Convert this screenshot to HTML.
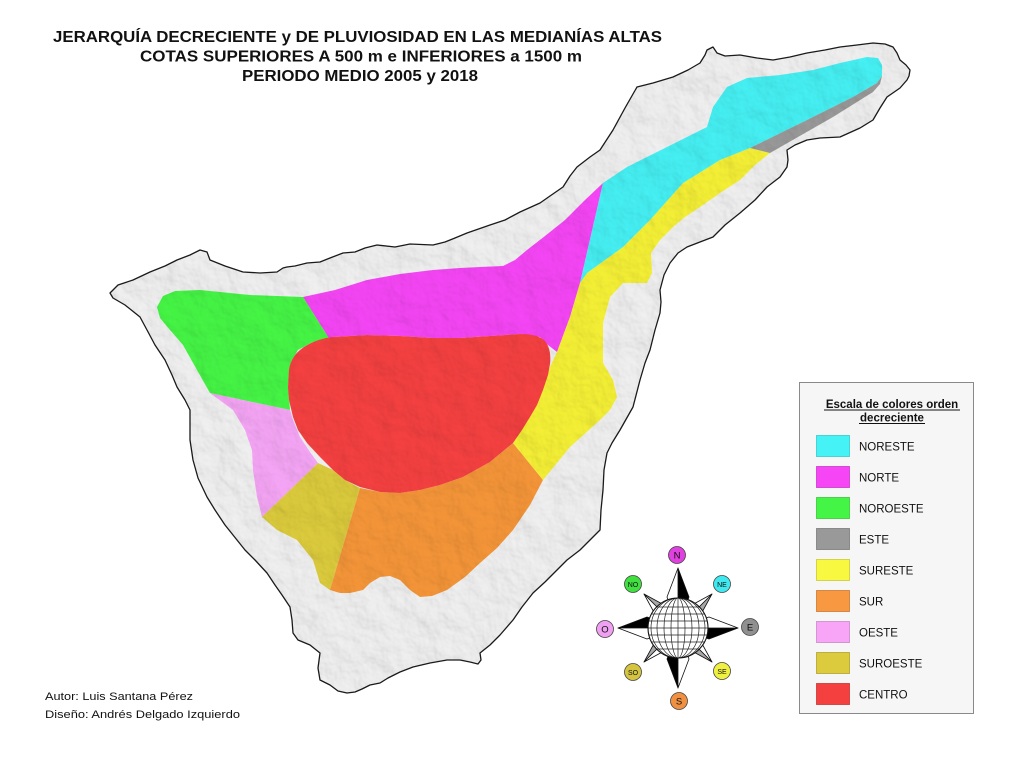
<!DOCTYPE html>
<html><head><meta charset="utf-8">
<style>
html,body{margin:0;padding:0;background:#fff;}
svg{display:block;}
text{font-family:"Liberation Sans",Arial,sans-serif;}
</style></head>
<body>
<svg width="1024" height="757" viewBox="0 0 1024 757" xmlns="http://www.w3.org/2000/svg">
<defs>
<clipPath id="isl"><path id="islp" d="M110,293 L118,285 133,280 150,272 165,266 177,260 190,255 200,250 207,252 210,260 225,266 243,272 260,273 277,272 283,268 287,267 295,266 307,263 320,262 330,258 343,253 355,252 365,248 377,245 395,247 410,244 433,245 445,242 455,238 467,233 490,225 505,220 520,212 540,203 550,196 563,187 570,176 577,167 590,157 600,150 613,130 625,108 637,87 653,83 673,77 688,70 700,63 705,55 707,50 713,47 717,53 725,56 740,55 757,58 773,60 790,57 807,53 825,50 840,47 857,45 873,43 885,44 893,47 897,53 900,60 906,65 910,70 909,76 907,80 900,88 887,97 880,108 873,120 860,128 840,137 820,138 807,140 795,145 787,150 788,160 787,167 780,177 767,187 755,200 740,213 725,225 713,237 700,242 687,247 678,253 670,263 664,275 660,290 661,302 660,313 655,330 650,350 645,363 640,380 633,407 620,430 612,443 607,453 604,470 603,490 601,510 600,530 590,540 580,550 567,560 555,572 545,582 533,593 522,607 513,620 500,635 490,645 480,653 481,660 478,664 470,662 460,660 447,660 430,663 413,667 400,672 388,678 380,683 370,685 362,689 355,692 347,693 338,691 330,685 320,680 318,668 320,653 310,645 298,640 293,633 292,620 290,607 282,595 275,585 267,573 255,560 245,550 237,540 225,525 215,510 207,497 198,478 193,460 190,440 190,427 190,410 185,400 177,387 172,375 165,360 155,345 147,330 140,317 125,305 113,298 Z"/></clipPath>
<filter id="hs" x="0" y="0" width="100%" height="100%">
<feTurbulence type="fractalNoise" baseFrequency="0.035" numOctaves="4" seed="7" result="n"/>
<feDiffuseLighting in="n" surfaceScale="4" diffuseConstant="1" lighting-color="#ffffff"><feDistantLight azimuth="315" elevation="55"/></feDiffuseLighting>
</filter>
</defs>

<rect width="1024" height="757" fill="#ffffff"/>

<!-- Title -->
<g font-weight="bold" font-size="15.5" fill="#111">
<text x="53" y="42" textLength="609" lengthAdjust="spacingAndGlyphs">JERARQUÍA DECRECIENTE y DE PLUVIOSIDAD EN LAS MEDIANÍAS ALTAS</text>
<text x="140" y="61.5" textLength="442" lengthAdjust="spacingAndGlyphs">COTAS SUPERIORES A 500 m e INFERIORES a 1500 m</text>
<text x="242" y="81" textLength="236" lengthAdjust="spacingAndGlyphs">PERIODO MEDIO 2005 y 2018</text>
</g>

<!-- Island -->
<use href="#islp" fill="#eaeaea"/>

<g clip-path="url(#isl)">
<!-- magenta NORTE -->
<path fill="#f545f5" d="M303,297 L335,290 367,280 400,274 433,270 460,268 480,267 503,266 515,260 527,250 545,236 565,220 585,200 603,183 580,283 570,317 557,352 548,345 540,337 520,334 490,336 460,338 433,338 400,336 367,335 333,337 330,340 Z"/>
<!-- green NOROESTE -->
<path fill="#45f545" d="M157,307 L163,296 175,291 200,290 250,295 303,297 330,340 313,342 298,350 291,362 288,385 290,410 210,393 197,370 183,345 170,330 160,318 Z"/>
<!-- pink OESTE -->
<path fill="#f5a5f5" d="M210,393 L290,410 293,420 300,437 310,452 318,463 262,517 257,497 253,470 252,450 245,430 233,410 Z"/>
<!-- olive SUROESTE -->
<path fill="#dccb3c" d="M262,517 L318,463 333,470 345,480 360,488 330,590 320,583 313,560 297,540 277,530 Z"/>
<!-- orange SUR -->
<path fill="#f59538" d="M360,488 L380,492 400,493 420,490 440,485 463,477 490,462 513,443 543,480 530,505 513,530 497,548 480,563 465,577 447,590 432,596 420,597 410,590 400,580 390,576 380,577 370,583 363,590 350,593 340,593 330,590 Z"/>
<!-- yellow SURESTE -->
<path fill="#f5f035" d="M750,148 L770,153 755,165 740,180 720,193 700,207 685,217 673,227 660,240 651,253 652,273 647,283 623,283 610,297 603,323 603,363 613,380 617,397 610,410 600,420 570,447 543,480 513,443 530,417 543,390 550,367 557,352 570,317 580,283 587,273 623,247 650,220 683,183 720,160 Z"/>
<!-- cyan NORESTE -->
<path fill="#45f0f3" d="M603,183 L627,167 667,147 707,127 713,107 727,87 747,78 780,75 813,70 840,63 867,57 878,58 882,65 882,76 877,83 853,97 807,120 750,148 720,160 683,183 650,220 623,247 587,273 580,283 Z"/>
<!-- gray ESTE -->
<path fill="#999999" d="M750,148 L807,120 853,97 877,83 882,76 880,84 873,92 833,117 770,153 Z"/>
<!-- red CENTRO -->
<path fill="#f54040" d="M300,350 C310,342 322,338 333,337 L367,335 400,336 433,338 460,338 490,336 520,334 C532,334 540,336 545,341 C550,347 551,356 550,364 L548,375 543,390 537,405 530,417 522,430 513,443 490,462 463,477 440,485 420,490 400,493 380,492 360,487 345,480 333,470 320,457 307,443 298,430 293,417 289,400 288,387 289,370 C290,362 294,355 300,350 Z"/>
<!-- hillshade texture -->
<rect x="100" y="40" width="820" height="660" filter="url(#hs)" opacity="0.3" style="mix-blend-mode:multiply"/>
</g>
<use href="#islp" fill="none" stroke="#1a1a1a" stroke-width="1.3" stroke-linejoin="round"/>

<!-- Authors -->
<g font-size="11" fill="#111">
<text x="45" y="700" textLength="148" lengthAdjust="spacingAndGlyphs">Autor: Luis Santana Pérez</text>
<text x="45" y="718" textLength="195" lengthAdjust="spacingAndGlyphs">Diseño: Andrés Delgado Izquierdo</text>
</g>

<!-- Compass -->
<g stroke="#111" stroke-width="0.8" stroke-linejoin="round">
<!-- diagonal arms -->
<polygon points="712,594 700,616 678,628" fill="#a8a8a8"/>
<polygon points="712,594 690,606 678,628" fill="#fff"/>
<polygon points="712,662 690,650 678,628" fill="#a8a8a8"/>
<polygon points="712,662 700,640 678,628" fill="#fff"/>
<polygon points="644,662 656,640 678,628" fill="#a8a8a8"/>
<polygon points="644,662 666,650 678,628" fill="#fff"/>
<polygon points="644,594 666,606 678,628" fill="#a8a8a8"/>
<polygon points="644,594 656,616 678,628" fill="#fff"/>
<!-- cardinal arms -->
<polygon points="678,568 689,597 678,628" fill="#000"/>
<polygon points="678,568 667,597 678,628" fill="#fff"/>
<polygon points="738,628 709,639 678,628" fill="#000"/>
<polygon points="738,628 709,617 678,628" fill="#fff"/>
<polygon points="678,688 667,659 678,628" fill="#000"/>
<polygon points="678,688 689,659 678,628" fill="#fff"/>
<polygon points="618,628 647,617 678,628" fill="#000"/>
<polygon points="618,628 647,639 678,628" fill="#fff"/>
</g>
<!-- globe -->
<clipPath id="gl"><circle cx="678" cy="628" r="30"/></clipPath>
<circle cx="678" cy="628" r="30" fill="#fff"/>
<g clip-path="url(#gl)" stroke="#222" stroke-width="0.7" fill="none">
<line x1="678" y1="596" x2="678" y2="660"/>
<ellipse cx="678" cy="628" rx="7" ry="30"/>
<ellipse cx="678" cy="628" rx="14" ry="30"/>
<ellipse cx="678" cy="628" rx="21" ry="30"/>
<ellipse cx="678" cy="628" rx="27" ry="30"/>
<line x1="640" y1="628" x2="716" y2="628"/>
<line x1="640" y1="621" x2="716" y2="621"/>
<line x1="640" y1="635" x2="716" y2="635"/>
<line x1="640" y1="614" x2="716" y2="614"/>
<line x1="640" y1="642" x2="716" y2="642"/>
<line x1="640" y1="607" x2="716" y2="607"/>
<line x1="640" y1="649" x2="716" y2="649"/>
</g>
<circle cx="678" cy="628" r="30" fill="none" stroke="#111" stroke-width="1.1"/>
<!-- direction circles -->
<g stroke="#444" stroke-width="0.8">
<circle cx="677" cy="555" r="8.5" fill="#e040e0"/>
<circle cx="722" cy="584" r="8.5" fill="#40e8f0"/>
<circle cx="750" cy="627" r="8.5" fill="#909090"/>
<circle cx="722" cy="671" r="8.5" fill="#f0f040"/>
<circle cx="679" cy="701" r="8.5" fill="#f09040"/>
<circle cx="633" cy="672" r="8.5" fill="#d4c440"/>
<circle cx="605" cy="629" r="8.5" fill="#f0a0f0"/>
<circle cx="633" cy="584" r="8.5" fill="#40e040"/>
</g>
<g fill="#111" text-anchor="middle">
<text x="677" y="558.5" font-size="9.5">N</text>
<text x="722" y="587" font-size="7">NE</text>
<text x="750" y="630.5" font-size="9.5">E</text>
<text x="722" y="674" font-size="7">SE</text>
<text x="679" y="704.5" font-size="9.5">S</text>
<text x="633" y="675" font-size="7">SO</text>
<text x="605" y="632.5" font-size="9.5">O</text>
<text x="633" y="587" font-size="7">NO</text>
</g>

<!-- Legend -->
<rect x="799.5" y="382.5" width="174" height="331" fill="#f6f6f6" stroke="#8a8a8a" stroke-width="1"/>
<g font-size="11.5" font-weight="bold" fill="#111" text-anchor="middle">
<text x="892" y="408">Escala de colores orden</text>
<text x="892" y="421.5">decreciente</text>
</g>
<line x1="824" y1="410" x2="960" y2="410" stroke="#111" stroke-width="0.9"/>
<line x1="859" y1="423.5" x2="925" y2="423.5" stroke="#111" stroke-width="0.9"/>
<g stroke-width="0.8">
<rect x="816.5" y="435.5" width="33" height="21" fill="#45f2f5" stroke="#38c8cc"/>
<rect x="816.5" y="466.5" width="33" height="21" fill="#f545f5" stroke="#c838c8"/>
<rect x="816.5" y="497.5" width="33" height="21" fill="#45f545" stroke="#38c838"/>
<rect x="816.5" y="528.5" width="33" height="21" fill="#999999" stroke="#7a7a7a"/>
<rect x="816.5" y="559.5" width="33" height="21" fill="#f8f840" stroke="#c8c838"/>
<rect x="816.5" y="590.5" width="33" height="21" fill="#f89840" stroke="#c87a34"/>
<rect x="816.5" y="621.5" width="33" height="21" fill="#f8a5f8" stroke="#c888c8"/>
<rect x="816.5" y="652.5" width="33" height="21" fill="#dccb3c" stroke="#b0a230"/>
<rect x="816.5" y="683.5" width="33" height="21" fill="#f54040" stroke="#c83434"/>
</g>
<g font-size="11.5" fill="#111">
<text x="859" y="450.5">NORESTE</text>
<text x="859" y="481.5">NORTE</text>
<text x="859" y="512.5">NOROESTE</text>
<text x="859" y="543.5">ESTE</text>
<text x="859" y="574.5">SURESTE</text>
<text x="859" y="605.5">SUR</text>
<text x="859" y="636.5">OESTE</text>
<text x="859" y="667.5">SUROESTE</text>
<text x="859" y="698.5">CENTRO</text>
</g>
</svg>
</body></html>
